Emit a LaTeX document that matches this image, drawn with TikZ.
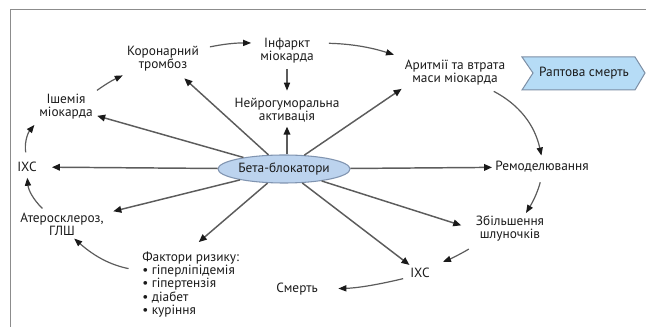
\documentclass[tikz,border=0pt]{standalone}
\usepackage{fontspec}
\setmainfont{PT Sans}
\usetikzlibrary{arrows.meta,shapes.geometric}
\definecolor{rayc}{HTML}{5C5C5C}
\definecolor{tipc}{HTML}{1A1A1A}
\definecolor{betafill}{HTML}{BCD3EE}
\definecolor{betadraw}{HTML}{8094B0}
\definecolor{chevfill}{HTML}{B6DCF6}
\definecolor{chevdraw}{HTML}{7D8FA5}
\definecolor{framec}{HTML}{8C8C8C}
\definecolor{txtc}{HTML}{1A1A1A}
\begin{document}
\begin{tikzpicture}[x=0.75pt,y=-0.75pt,
  lbl/.style={align=center, inner sep=2.25pt, text=txtc, font=\fontsize{10pt}{9.8pt}\selectfont},
  betanode/.style={ellipse, draw=betadraw, fill=betafill, line width=0.8pt, minimum width=99pt, minimum height=21pt, inner sep=0pt, text=txtc, font=\fontsize{10pt}{9.8pt}\selectfont},
  ray/.style={draw=rayc, line width=1.1pt, -{Triangle[length=6pt,width=5pt,color=tipc]}},
  cyc/.style={draw=rayc, line width=0.9pt, -{Triangle[length=6pt,width=4.6pt,color=tipc]}}]
\useasboundingbox (0,0) rectangle (646,327);
\draw[framec, line width=0.75pt] (10,327) -- (10,10) -- (646,10);
% chevron
\filldraw[fill=chevfill, draw=chevdraw, line width=0.75pt] (522,57) -- (635,57) -- (645,73) -- (635,90) -- (522,90) -- (533,73) -- cycle;
% nodes
\node[lbl] (coron) at (163,59) {Коронарний\\тромбоз};
\node[lbl] (inf) at (287,51) {Інфаркт\\міокарда};
\node[lbl] (neuro) at (287,110) {Нейрогуморальна\\активація};
\node[lbl] (arr) at (455,73) {Аритмії та втрата\\маси міокарда};
\node[lbl] (rapt) at (584,73) {Раптова смерть};
\node[lbl] (isch) at (66,107) {Ішемія\\міокарда};
\node[lbl] (ixcL) at (27,167) {ІХС};
\node[lbl] (ather) at (62,224) {Атеросклероз,\\ГЛШ};
\node[lbl, align=left, anchor=north west] (fact) at (139,249) {Фактори ризику:\\• гіперліпідемія\\• гіпертензія\\• діабет\\• куріння};
\node[lbl] (smert) at (297,289) {Смерть};
\node[lbl] (ixcB) at (420,273) {ІХС};
\node[lbl] (zbil) at (510,229) {Збільшення\\шлуночків};
\node[lbl] (remod) at (542,167) {Ремоделювання};
\node[betanode] (beta) at (284,169) {Бета-блокатори};
% radial arrows
\draw[ray, shorten >=9pt] (beta) -- (ixcL);
\draw[ray, shorten >=1pt] (beta) -- (isch);
\draw[ray, shorten >=4pt] (beta) -- (coron);
\draw[ray, shorten >=1pt] (beta.north -| neuro.south) -- (neuro.south);
\draw[ray] (beta) -- (arr.south west);
\draw[ray] (beta) -- (remod);
\draw[ray, shorten >=9pt] (beta) -- (zbil.west);
\draw[ray] (beta) -- (ixcB);
\draw[ray, shorten >=8pt] (beta) -- (fact.north);
\draw[ray, shorten >=5pt] (beta) -- (ather);
% cycle arrows
\draw[cyc, shorten <=5pt, shorten >=2pt] (ixcL.north) to[bend left=25] (isch.south west);
\draw[cyc, shorten <=1pt, shorten >=1pt] (isch.north east) to[bend left=5] (coron.south west);
\draw[cyc, shorten <=6pt, shorten >=4.5pt] (coron.15) to[bend left=6] (inf.165);
\draw[cyc, shorten <=1.5pt, shorten >=3pt] (inf.south) -- (neuro.north);
\draw[cyc, shorten <=9pt, shorten >=6pt] (inf.15) to[bend left=8] (arr.north west);
\draw[cyc, shorten <=4pt, shorten >=2pt] (arr.-25) to[bend left=25] (remod.north);
\draw[cyc, shorten <=5pt] (remod.south) to[bend left=8] (zbil.45);
\draw[cyc, shorten <=6pt, shorten >=8pt] (zbil.-155) to[bend left=5] (ixcB.30);
\draw[cyc, shorten <=3pt, shorten >=13pt] (ixcB.200) to[bend left=6] (smert.east);
\draw[cyc, shorten <=8pt] (fact.165) to[bend left=15] (ather.-50);
\draw[cyc, shorten <=1pt, shorten >=2pt] (ather.142) to[bend left=20] (ixcL.south);
\end{tikzpicture}
\end{document}
